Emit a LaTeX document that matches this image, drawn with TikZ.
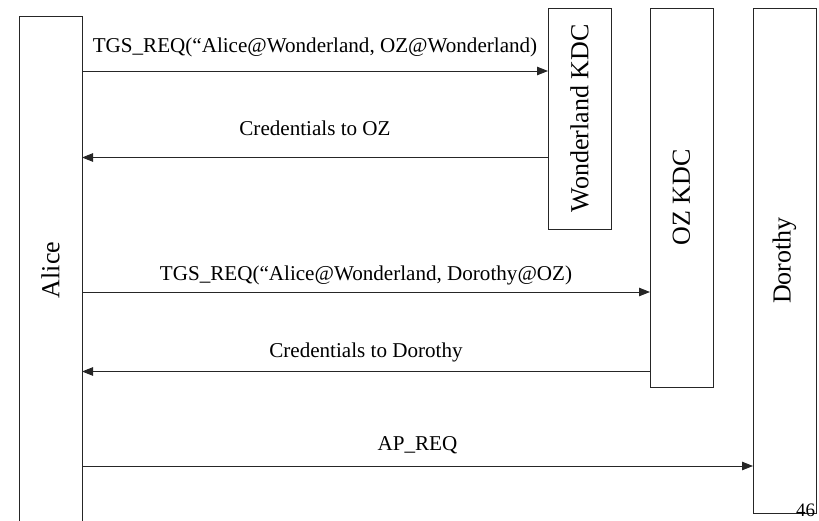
\documentclass[tikz,border=0pt]{standalone}
\usepackage{fontspec}
\setmainfont{Liberation Serif}
\usetikzlibrary{arrows.meta}
\begin{document}
\begin{tikzpicture}[x=1pt,y=-1pt,
  actor/.style={draw=black!85, line width=0.9pt, rectangle, inner sep=0pt, outer sep=0pt,
    minimum width=63pt, font=\fontsize{26}{30}\selectfont},
  msg/.style={draw=black!85, line width=0.9pt, -{Triangle[length=11pt,width=8.5pt]}},
  msglabel/.style={anchor=base, inner sep=0pt, font=\fontsize{21.1}{25}\selectfont}
]
\useasboundingbox (0,0) rectangle (819,520);
% participants
\node[actor, minimum height=508pt] (alice) at (50.5,270) {\rotatebox{90}{Alice}};
\node[actor, minimum height=221pt] (wkdc) at (579.5,118.5) {\rotatebox{90}{Wonderland KDC}};
\node[actor, minimum height=379pt] (ozkdc) at (681.5,197.5) {\rotatebox{90}{OZ KDC}};
\node[actor, minimum height=505pt] (dorothy) at (784.5,260.5) {\rotatebox{90}{Dorothy}};
% message heights
\coordinate (y1) at (0,71);
\coordinate (y2) at (0,157.5);
\coordinate (y3) at (0,292);
\coordinate (y4) at (0,371.5);
\coordinate (y5) at (0,466);
% messages
\draw[msg] (alice.east |- y1) -- (wkdc.west |- y1)
  node[msglabel, midway, yshift=19pt] {TGS\_REQ(“Alice@Wonderland, OZ@Wonderland)};
\draw[msg] (wkdc.west |- y2) -- (alice.east |- y2)
  node[msglabel, midway, yshift=22pt] {Credentials to OZ};
\draw[msg] (alice.east |- y3) -- (ozkdc.west |- y3)
  node[msglabel, midway, yshift=12pt] {TGS\_REQ(“Alice@Wonderland, Dorothy@OZ)};
\draw[msg] (ozkdc.west |- y4) -- (alice.east |- y4)
  node[msglabel, midway, yshift=14.5pt] {Credentials to Dorothy};
\draw[msg] (alice.east |- y5) -- (dorothy.west |- y5)
  node[msglabel, midway, yshift=16pt] {AP\_REQ};
% page number
\node[anchor=base, inner sep=0pt, font=\fontsize{19}{23}\selectfont] (pagenum) at (805.5,516) {46};
\end{tikzpicture}
\end{document}
